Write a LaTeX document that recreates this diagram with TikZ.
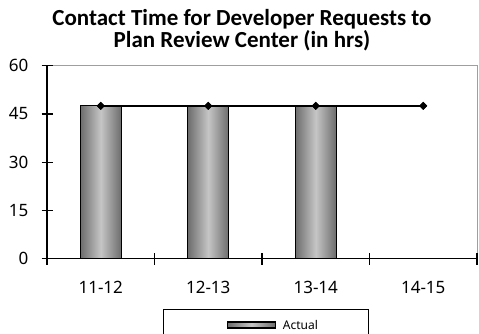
\documentclass[tikz,border=0pt]{standalone}
\usepackage{fontspec}
\setmainfont{Noto Sans}
\newfontfamily\titlefont{Carlito}
\usetikzlibrary{shapes.geometric}
\begin{document}
\begin{tikzpicture}[x=1pt,y=-1pt,
  bar/.style={draw=black,line width=1.2pt,minimum width=41pt,inner sep=0pt,
    anchor=south,left color=gray!85!black,right color=gray!85!black,middle color=gray!45},
  marker/.style={diamond,fill=black,inner sep=0pt,minimum size=8pt},
  ticklab/.style={font=\fontsize{17}{17}\selectfont,inner sep=0pt},
  axisline/.style={line width=1.2pt,black},
  frameline/.style={line width=1pt,gray!75}]
\useasboundingbox (0,0) rectangle (479,333);
% title
\node[font=\titlefont\bfseries\fontsize{23}{22.5}\selectfont,align=center] (title) at (242,30)
  {Contact Time for Developer Requests to\\Plan Review Center (in hrs)};
% plot frame
\coordinate (o) at (47,258.7);
\coordinate (tl) at (47,65.7);
\coordinate (tr) at (477,65.7);
\coordinate (br) at (477,258.7);
\draw[frameline] (tl) -- (tr) -- (br);
% bars (value 47.5)
\foreach \i/\cx in {1/100.75,2/208.25,3/315.75}{
  \node[bar,minimum height=152.8pt] (bar\i) at (\cx,258.7) {};
}
% axes
\draw[axisline] (tl) -- (o) -- (br);
% y ticks and labels
\foreach \v in {0,15,30,45,60}{
  \coordinate (yt\v) at (47,{258.7-\v*193/60});
  \draw[axisline] ([xshift=-5.5pt]yt\v) -- ([xshift=5.5pt]yt\v);
  \node[ticklab,anchor=east] (yl\v) at ([xshift=-18.5pt]yt\v) {\v};
}
% x ticks
\foreach \k in {0,1,2,3,4}{
  \coordinate (xt\k) at ({47+\k*107.5},258.7);
  \draw[axisline] ([yshift=-6pt]xt\k) -- ([yshift=6pt]xt\k);
}
% category labels
\foreach \i/\cx/\lab in {1/100.75/11-12,2/208.25/12-13,3/315.75/13-14,4/423.25/14-15}{
  \node[ticklab] (xl\i) at (\cx,287) {\lab};
}
% target line with markers
\foreach \i/\cx in {1/100.75,2/208.25,3/315.75,4/423.25}{
  \node[marker] (m\i) at (\cx,105.9) {};
}
\draw[line width=1.2pt] (m1.center) -- (m2.center) -- (m3.center) -- (m4.center);
\foreach \i in {1,2,3,4}{ \node[marker] at (m\i) {}; }
% legend
\draw[line width=1pt] (163.3,340) |- (368.3,309.3) -- (368.3,340);
\node[draw=black,line width=1.2pt,minimum width=48pt,minimum height=6pt,inner sep=0pt,
  left color=gray!85!black,right color=gray!85!black,middle color=gray!45] (legbar) at (251.5,325) {};
\node[font=\fontsize{12}{12}\selectfont,anchor=west,inner sep=0pt] (legtext) at (282.7,325) {Actual};
\end{tikzpicture}
\end{document}
